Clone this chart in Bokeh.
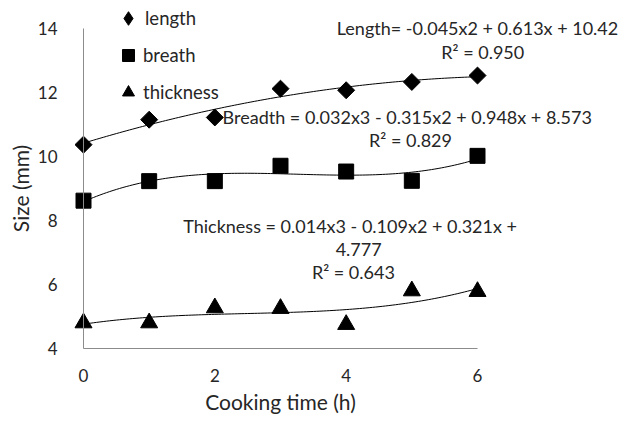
import numpy as np
from bokeh.plotting import figure
from bokeh.models import Range1d, Legend, LegendItem, Label, FixedTicker
from bokeh.embed import file_html
from bokeh.resources import INLINE

# ---- data ----
time_h = [0, 1, 2, 3, 4, 5, 6]
length = [10.37, 11.15, 11.22, 12.12, 12.07, 12.33, 12.53]
breadth = [8.62, 9.23, 9.23, 9.71, 9.53, 9.24, 10.02]
thickness = [4.80, 4.80, 5.27, 5.25, 4.75, 5.80, 5.78]
legend_labels = ["length", "breath", "thickness"]
x_ticks = [0, 2, 4, 6]
y_ticks = [4, 6, 8, 10, 12, 14]
eq_length = ["Length= -0.045x2 + 0.613x + 10.42", "R\u00b2 = 0.950"]
eq_breadth = ["Breadth = 0.032x3 - 0.315x2 + 0.948x + 8.573", "R\u00b2 = 0.829"]
eq_thick = ["Thickness = 0.014x3 - 0.109x2 + 0.321x +", "4.777", "R\u00b2 = 0.643"]

FONT = "Lato"
TXT = "#262626"
W, H = 631, 421
# plot-area placement (pixels): x 0..6 -> 83..477, y 4..14 -> 348..28
X0, X1, YB, YT = 83.0, 477.0, 348.0, 28.0
sx = (X1 - X0) / 6.0
sy = (YB - YT) / 10.0

p = figure(width=W, height=H,
           x_range=Range1d(-X0 / sx, (W - X0) / sx),
           y_range=Range1d(4 - (H - YB) / sy, 14 + YT / sy),
           output_backend="svg", toolbar_location=None,
           min_border=0, min_border_left=0, min_border_right=0,
           min_border_top=0, min_border_bottom=0)
p.outline_line_color = None
p.background_fill_color = "white"
p.border_fill_color = "white"
p.grid.visible = False

for ax in (p.xaxis[0], p.yaxis[0]):
    ax.axis_line_color = "#8c8c8c"
    ax.axis_line_width = 1
    ax.major_tick_line_color = None
    ax.minor_tick_line_color = None
    ax.major_label_text_font = FONT
    ax.major_label_text_font_size = "17px"
    ax.major_label_text_color = TXT
    ax.axis_label_text_font = FONT
    ax.axis_label_text_font_size = "21px"
    ax.axis_label_text_font_style = "normal"
    ax.axis_label_text_color = TXT

p.xaxis[0].ticker = FixedTicker(ticks=x_ticks)
p.yaxis[0].ticker = FixedTicker(ticks=y_ticks)
p.xaxis[0].bounds = (0, 6)
p.yaxis[0].bounds = (4, 14)
p.xaxis[0].fixed_location = 4
p.yaxis[0].fixed_location = 0
p.xaxis[0].axis_label = "Cooking time (h)"
p.yaxis[0].axis_label = "Size (mm)"
p.xaxis[0].major_label_standoff = 14
p.yaxis[0].major_label_standoff = 20
p.xaxis[0].axis_label_standoff = 4
p.yaxis[0].axis_label_standoff = 2

# trend lines (polynomial fits of the data, as in the spreadsheet)
xs = np.linspace(0, 6, 121)
for ys, deg in ((length, 2), (breadth, 3), (thickness, 3)):
    c = np.polyfit(time_h, ys, deg)
    p.line(xs, np.polyval(c, xs), line_color="black", line_width=1)

r_len = p.scatter(time_h, length, marker="square", angle=np.pi / 4, size=12,
                  fill_color="black", line_color="black")
r_br = p.scatter(time_h, breadth, marker="square", size=15,
                 fill_color="black", line_color="black")
r_th = p.scatter(time_h, thickness, marker="triangle", size=17,
                 fill_color="black", line_color="black")
# legend swatch for the diamond series (legend swatches ignore marker angle)
r_len_key = p.scatter([np.nan], [np.nan], marker="diamond",
                      fill_color="black", line_color="black")

common = dict(orientation="vertical", padding=0, margin=0,
              border_line_color=None, background_fill_alpha=0,
              label_text_font=FONT, label_text_font_size="18.5px",
              label_text_color=TXT, label_standoff=0)
legend_a = Legend(items=[LegendItem(label=legend_labels[0], renderers=[r_len_key])],
                  location=(111, H - 35), glyph_width=34, glyph_height=34,
                  label_height=34, spacing=0, **common)
legend_b = Legend(items=[LegendItem(label=legend_labels[1], renderers=[r_br]),
                         LegendItem(label=legend_labels[2], renderers=[r_th])],
                  location=(113, H - 107), glyph_width=30, glyph_height=30,
                  label_height=30, spacing=7, **common)
p.add_layout(legend_a, "center")
p.add_layout(legend_b, "center")

def add_lines(lines, positions):
    for t, (x, y) in zip(lines, positions):
        p.add_layout(Label(x=x, y=y, text=t, text_align="center", text_baseline="middle",
                           text_font=FONT, text_font_size="18px", text_color=TXT))

add_lines(eq_length, [(6.0, 14.02), (6.08, 13.27)])
add_lines(eq_breadth, [(4.93, 11.24), (4.98, 10.52)])
add_lines(eq_thick, [(4.06, 7.82), (4.19, 7.10), (4.11, 6.38)])

open("out.html", "w").write(file_html(p, INLINE))
